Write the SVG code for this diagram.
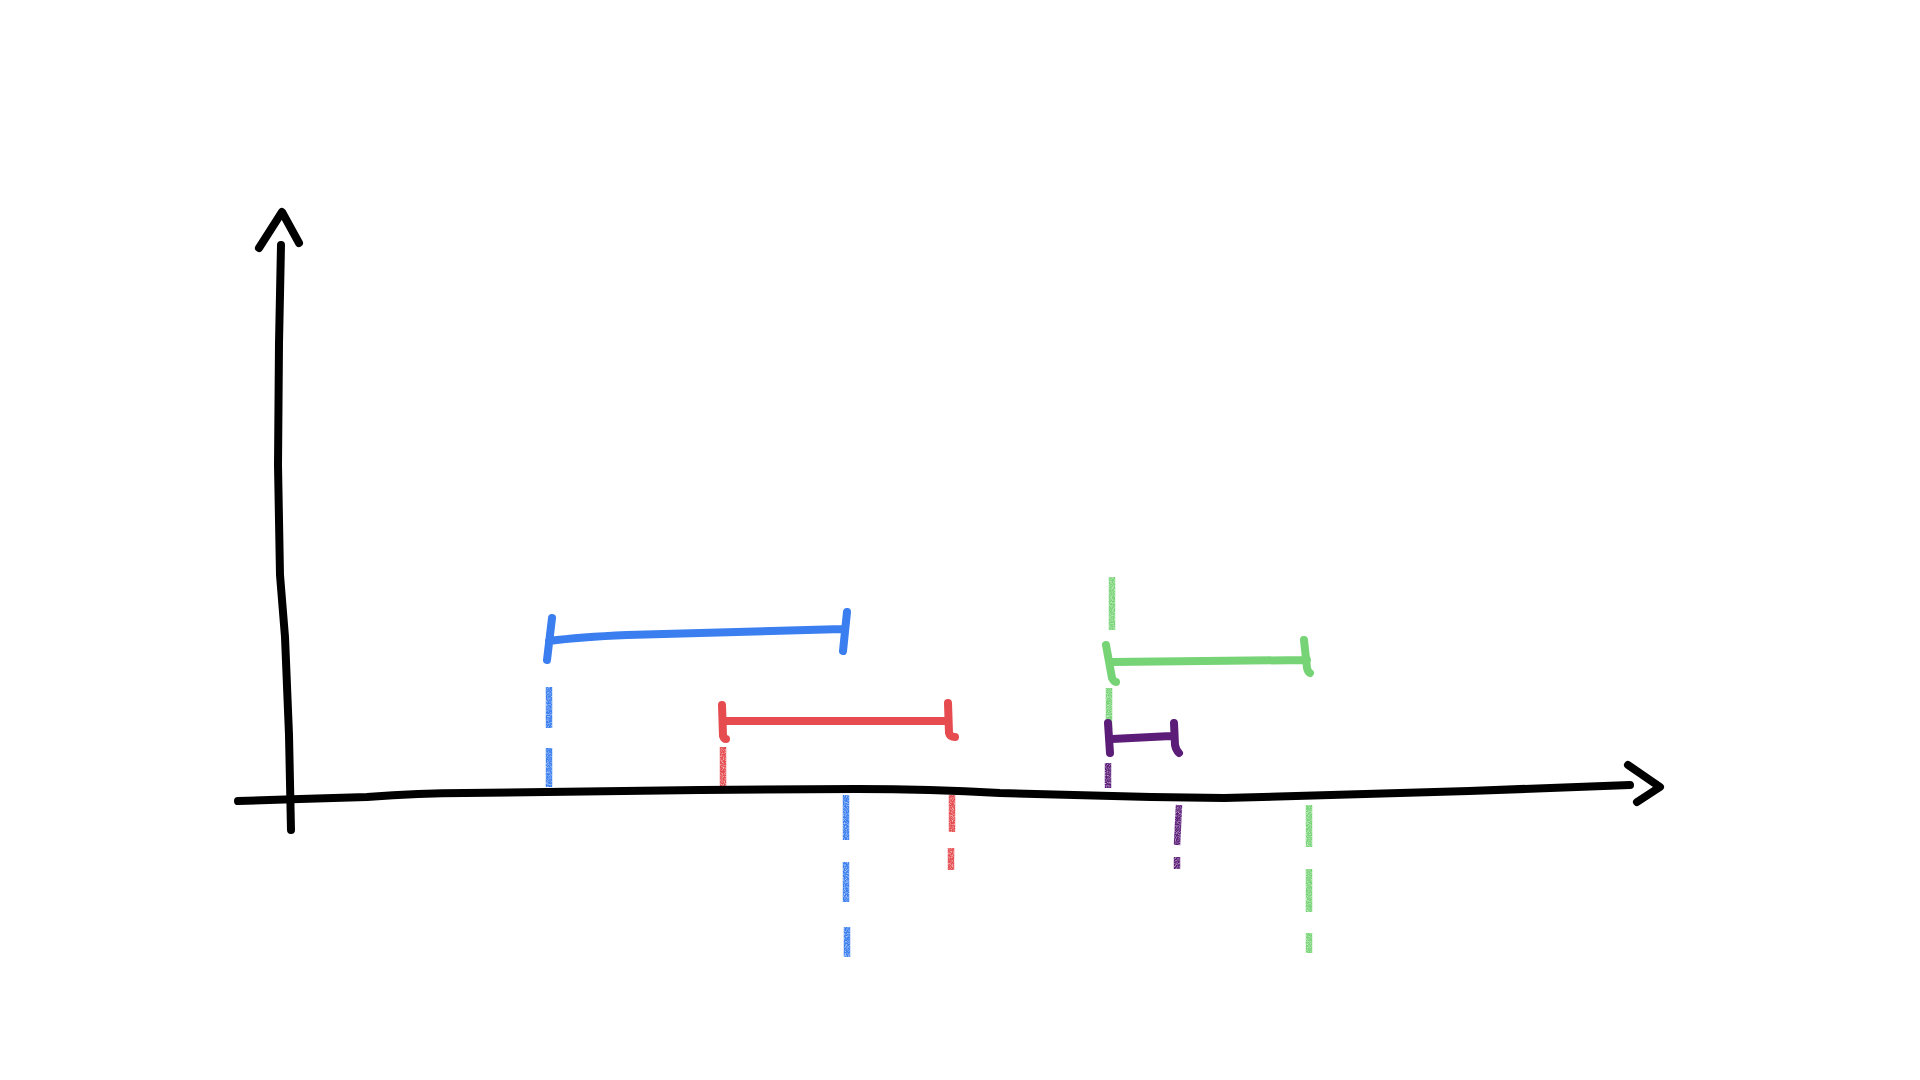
<svg xmlns="http://www.w3.org/2000/svg" width="1920" height="1080" viewBox="0 0 1920 1080">
<defs>
<style>
.ax{fill:none;stroke:#000;stroke-width:8;stroke-linecap:round;stroke-linejoin:round}
.bar{fill:none;stroke-width:8;stroke-linecap:round;stroke-linejoin:round}
.dash{fill:none;stroke-width:6.5;stroke-linecap:butt;filter:url(#chalk)}
.blue{stroke:#3a7ef0}
.red{stroke:#e54b4f}
.green{stroke:#77d476}
.purple{stroke:#5b1d78}
</style>
<filter id="chalk" filterUnits="userSpaceOnUse" x="0" y="0" width="1920" height="1080">
<feTurbulence type="fractalNoise" baseFrequency="0.9" numOctaves="2" seed="3" result="n"/>
<feColorMatrix in="n" type="matrix" values="0 0 0 0 0  0 0 0 0 0  0 0 0 0 0  0 0 0 -1.5 1.6" result="m"/>
<feComposite in="SourceGraphic" in2="m" operator="in"/>
</filter>
</defs>
<rect width="1920" height="1080" fill="#fff"/>
<g id="guides">
<path class="dash blue" d="M549 687V728M549 748V787"/>
<path class="dash blue" d="M846 795V840M846 862V902M847 927V957"/>
<path class="dash red" d="M723 747V787"/>
<path class="dash red" d="M952 795V832M951 848V870"/>
<path class="dash green" d="M1112 577V630M1109 688V730"/>
<path class="dash green" d="M1309 805V847M1309 869V912M1309 933V953"/>
<path class="dash purple" d="M1108 763V788"/>
<path class="dash purple" d="M1179 805L1177 845M1177 857V869"/>
</g>
<g id="axes">
<path class="ax" d="M291 830L289 735L285 637L280 575L278 465L279 343L281 245"/>
<path class="ax" d="M259 248L282 212L299 243"/>
<path class="ax" d="M238 801L300 799L367 797Q420 793 465 793L700 790L857 789Q930 789 1000 793L1151 797L1224 798L1469 791L1630 785"/>
<path class="ax" d="M1628 765L1660 787L1637 802"/>
</g>
<g id="interval-blue">
<path class="bar blue" d="M552 618L547 660M549 641Q580 637 627 635L843 629M847 612L843 651"/>
</g>
<g id="interval-red">
<path class="bar red" d="M722 705L723 736Q724 739 726 739M725 721L947 721M948 703L949 733Q950 737 955 737"/>
</g>
<g id="interval-green">
<path class="bar green" d="M1106 645L1112 678Q1114 682 1116 682M1112 662L1307 660M1304 640L1307 668Q1308 672 1310 673"/>
</g>
<g id="interval-purple">
<path class="bar purple" d="M1108 723L1110 753M1112 739L1171 736M1174 723L1175 745Q1176 750 1179 753"/>
</g>
</svg>
